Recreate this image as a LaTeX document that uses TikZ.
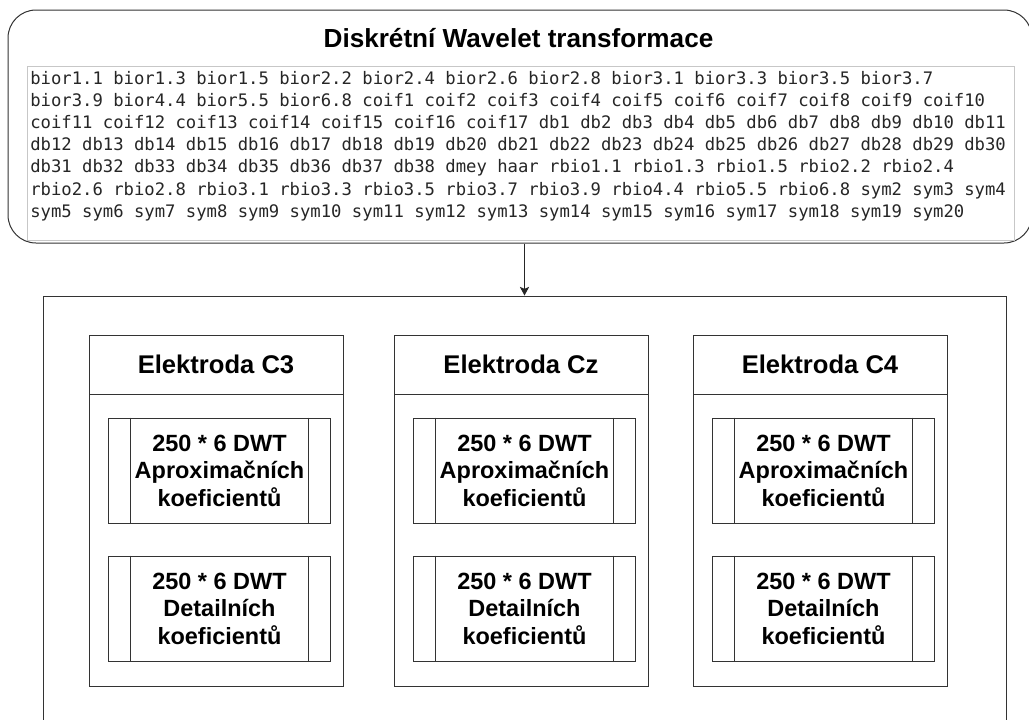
\documentclass[tikz,border=0pt]{standalone}
\usepackage{fontspec}
\setmainfont{Liberation Sans}
\newfontfamily\codefont{DejaVu Sans Mono}
\usetikzlibrary{fit,arrows.meta}

% one unit = one pixel of the 1029 x 719 canvas, y grows downwards
\tikzset{
  frame/.style={draw=black!80, line width=0.75pt, inner sep=0pt},
  codeline/.style={anchor=base west, inner sep=0pt, text=black!85,
    font=\codefont\fontsize{12.93}{15}\selectfont},
  headtext/.style={font=\bfseries\fontsize{19.2}{22}\selectfont},
  proctext/.style={align=center, inner sep=0pt,
    font=\bfseries\fontsize{17.6}{20.6}\selectfont},
}

% coefficient block: name, left x, top y, label
\newcommand\dwtblock[4]{%
  \node[frame, fit={(#2,#3) (#2+222,#3+105)}] (#1) {};
  \draw[draw=black!80, line width=0.75pt]
    ([xshift=16.9pt]#1.north west) -- ([xshift=16.9pt]#1.south west)
    ([xshift=-16.9pt]#1.north east) -- ([xshift=-16.9pt]#1.south east);
  \node[proctext] (#1-t) at (#1.center) {#4};
}

% electrode column: name, left x, title
\newcommand\electrode[3]{%
  \node[frame, fit={(#2,335) (#2+254,394)}] (#1-head) {};
  \node[headtext] (#1-title) at (#1-head.center) {#3};
  \node[frame, fit={(#2,394) (#2+254,686)}] (#1-body) {};
  \dwtblock{#1-aprox}{#2+19.5}{418}{250 * 6 DWT\\Aproximačních\\koeficientů}
  \dwtblock{#1-detail}{#2+19.5}{556}{250 * 6 DWT\\Detailních\\koeficientů}
}

\begin{document}
\begin{tikzpicture}[x=0.75pt, y=-0.75pt]
  \useasboundingbox (0,0) rectangle (1029,719);

  % wavelet family panel
  \node[frame, rounded corners=21pt, fit={(8,10) (1032,243)}] (top) {};
  \node[anchor=base, inner sep=0pt, font=\bfseries\fontsize{19.6}{22}\selectfont]
    (title) at (518.5,47) {Diskrétní Wavelet transformace};
  \node[draw=black!22, fill=white, line width=0.75pt, inner sep=0pt,
        fit={(27,66) (1014,240)}] (list) {};
  \foreach \txt [count=\i] in {
    {bior1.1 bior1.3 bior1.5 bior2.2 bior2.4 bior2.6 bior2.8 bior3.1 bior3.3 bior3.5 bior3.7},
    {bior3.9 bior4.4 bior5.5 bior6.8 coif1 coif2 coif3 coif4 coif5 coif6 coif7 coif8 coif9 coif10},
    {coif11 coif12 coif13 coif14 coif15 coif16 coif17 db1 db2 db3 db4 db5 db6 db7 db8 db9 db10 db11},
    {db12 db13 db14 db15 db16 db17 db18 db19 db20 db21 db22 db23 db24 db25 db26 db27 db28 db29 db30},
    {db31 db32 db33 db34 db35 db36 db37 db38 dmey haar rbio1.1 rbio1.3 rbio1.5 rbio2.2 rbio2.4},
    {rbio2.6 rbio2.8 rbio3.1 rbio3.3 rbio3.5 rbio3.7 rbio3.9 rbio4.4 rbio5.5 rbio6.8 sym2 sym3 sym4},
    {sym5 sym6 sym7 sym8 sym9 sym10 sym11 sym12 sym13 sym14 sym15 sym16 sym17 sym18 sym19 sym20}}
    \node[codeline] (code\i) at (30,{84+22.2*(\i-1)}) {\txt};

  % electrode container
  \node[frame, fit={(43,296) (1006,745)}] (big) {};

  \electrode{c3}{89}{Elektroda C3}
  \electrode{cz}{394}{Elektroda Cz}
  \electrode{c4}{693}{Elektroda C4}

  \draw[draw=black!85, line width=0.75pt,
        -{Stealth[length=6.5pt, width=7pt, inset=1.5pt]}]
    (top.south -| big.north) -- (big.north);
\end{tikzpicture}
\end{document}
